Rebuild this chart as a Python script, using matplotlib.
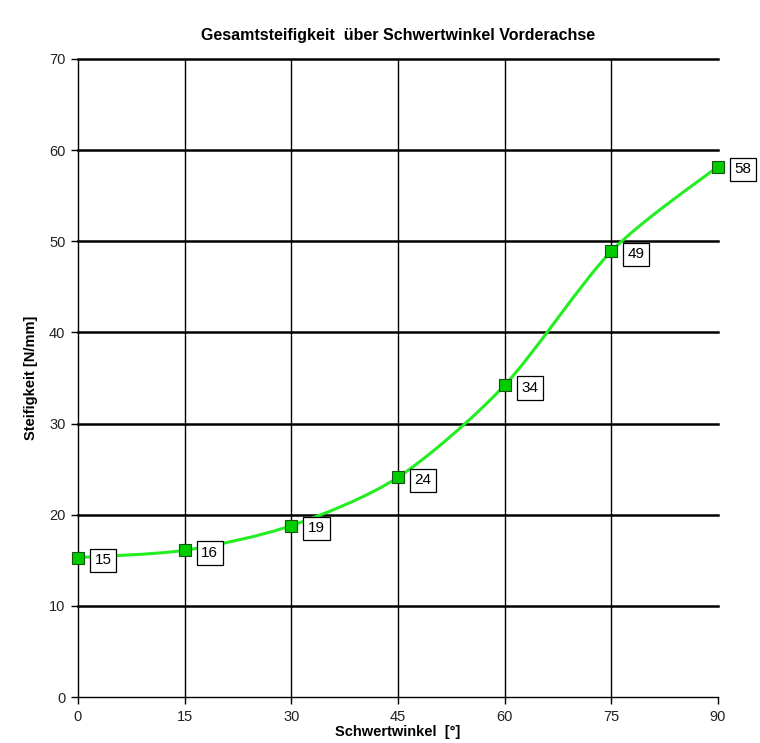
import numpy as np
import matplotlib
matplotlib.use("Agg")
import matplotlib.pyplot as plt
from matplotlib.path import Path
from matplotlib.patches import PathPatch

plt.rcParams['font.family'] = ['Liberation Sans', 'DejaVu Sans']

winkel = [0, 15, 30, 45, 60, 75, 90]
steifigkeit = [15.3, 16.1, 18.8, 24.1, 34.2, 48.9, 58.2]
labels = ['15', '16', '19', '24', '34', '49', '58']


def smooth_path(x, y, t=1 / 6.):
    # Bezier segments like Excel's smoothed line (Catmull-Rom)
    x = np.asarray(x, float)
    y = np.asarray(y, float)
    verts = [(x[0], y[0])]
    codes = [Path.MOVETO]
    n = len(x)
    for i in range(n - 1):
        p0 = i - 1 if i > 0 else i
        p3 = i + 2 if i + 2 < n else i + 1
        c1 = (x[i] + (x[i + 1] - x[p0]) * t, y[i] + (y[i + 1] - y[p0]) * t)
        c2 = (x[i + 1] - (x[p3] - x[i]) * t, y[i + 1] - (y[p3] - y[i]) * t)
        verts += [c1, c2, (x[i + 1], y[i + 1])]
        codes += [Path.CURVE4] * 3
    return Path(verts, codes)


fig = plt.figure(figsize=(7.6, 7.43), dpi=100)
ax = fig.add_axes([0.1026, 0.0619, 0.842, 0.8587])

ax.set_xlim(0, 90)
ax.set_ylim(0, 70)
ax.set_xticks(winkel)
ax.set_yticks(range(0, 71, 10))

for v in range(10, 71, 10):
    ax.axhline(v, color='black', lw=1.8, zorder=1, clip_on=False)
for v in winkel[1:-1]:
    ax.axvline(v, color='black', lw=1.0, zorder=1)

ax.spines['top'].set_visible(False)
ax.spines['right'].set_visible(False)
ax.spines['left'].set_linewidth(1.0)
ax.spines['bottom'].set_linewidth(1.0)
ax.tick_params(direction='out', length=5, width=1, labelsize=10.5, colors='black', pad=4)
for lab in ax.get_xticklabels() + ax.get_yticklabels():
    lab.set_color('#222222')

ax.add_patch(PathPatch(smooth_path(winkel, steifigkeit, t=0.14), facecolor='none',
                       edgecolor='#22ee22', lw=2.2, zorder=3, clip_on=False))
ax.plot(winkel, steifigkeit, linestyle='', marker='s', ms=8, mfc='#00cc00',
        mec='#115511', mew=0.8, zorder=4, clip_on=False)

for xv, yv, lb in zip(winkel, steifigkeit, labels):
    ax.annotate(lb, (xv, yv), xytext=(12, -2), textcoords='offset points',
                ha='left', va='center', fontsize=11, zorder=5,
                bbox=dict(boxstyle='square,pad=0.3', fc='white', ec='black', lw=0.9))

ax.set_title('Gesamtsteifigkeit  über Schwertwinkel Vorderachse',
             fontsize=11.5, fontweight='bold', pad=14)
ax.set_xlabel('Schwertwinkel  [°]', fontsize=10.5, fontweight='bold', labelpad=1)
ax.set_ylabel('Steifigkeit [N/mm]', fontsize=10.5, fontweight='bold', labelpad=8)

fig.savefig('out.png', dpi=100, facecolor='white')
